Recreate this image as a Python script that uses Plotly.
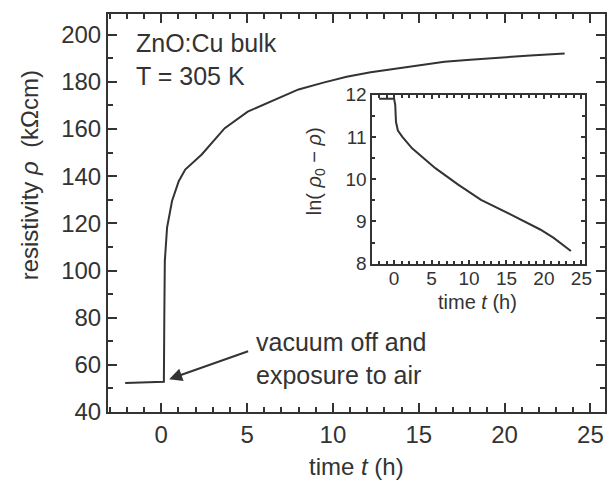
import plotly.graph_objects as go

# Main curve: resistivity vs time
t_main = [-2.1, 0.0, 0.155, 0.18, 0.21, 0.34, 0.63, 1.02, 1.40, 2.36, 3.70, 5.04, 6.57, 8.0, 9.5,
          10.8, 12.2, 13.7, 15.1, 16.5, 18.0, 19.4, 21.5, 23.5]
rho_main = [52.3, 52.6, 52.8, 80.0, 104.0, 118.2, 129.5, 137.9, 142.8, 149.2, 160.4, 167.4, 172.4,
            176.8, 179.8, 182.2, 184.1, 185.7, 187.2, 188.5, 189.4, 190.2, 191.2, 192.0]

# Inset curve: ln(rho0 - rho) vs time
t_inset = [-2.0, -1.0, 0.0, 0.15, 0.25, 0.5, 1.1, 2.4, 5.5, 8.55, 11.6, 15.6, 19.5, 21.3, 23.0, 23.6]
ln_inset = [11.9, 11.9, 11.9, 11.75, 11.35, 11.15, 11.0, 10.73, 10.26, 9.87, 9.51, 9.16, 8.81, 8.61, 8.38, 8.30]

main_yticks = [40, 60, 80, 100, 120, 140, 160, 180, 200]
main_xticks = [0, 5, 10, 15, 20, 25]
inset_yticks = [8, 9, 10, 11, 12]
inset_xticks = [0, 5, 10, 15, 20, 25]

FONT = "Liberation Sans, Arial, sans-serif"
TXT = "#333333"
LINE = "#333333"
TICKC = "#333333"

MAIN_X_RANGE = [-3.1, 25.85]
MAIN_Y_RANGE = [40, 208.8]
INSET_X_RANGE = [-2.9, 25.5]
INSET_Y_RANGE = [8, 12]
INSET_X_DOMAIN = [0.532, 0.960]
INSET_Y_DOMAIN = [0.3725, 0.7975]

fig = go.Figure()
fig.add_trace(go.Scatter(x=t_main, y=rho_main, mode="lines",
                         line=dict(color=LINE, width=2), xaxis="x", yaxis="y",
                         showlegend=False, hoverinfo="skip"))
fig.add_trace(go.Scatter(x=t_inset, y=ln_inset, mode="lines",
                         line=dict(color=LINE, width=2), xaxis="x2", yaxis="y2",
                         showlegend=False, hoverinfo="skip"))
# invisible traces so the mirrored tick axes are drawn
fig.add_trace(go.Scatter(x=[None], y=[None], xaxis="x3", yaxis="y3", showlegend=False, hoverinfo="skip"))
fig.add_trace(go.Scatter(x=[None], y=[None], xaxis="x4", yaxis="y4", showlegend=False, hoverinfo="skip"))


def ax(rng, vals, major_len, minor_dtick, minor_len, fsize, **kw):
    d = dict(showgrid=False, zeroline=False, showline=True, linecolor=LINE, linewidth=2,
             ticks="inside", tickcolor=TICKC, tickwidth=2, ticklen=major_len,
             range=rng, tickmode="array", tickvals=vals,
             minor=dict(dtick=minor_dtick, tick0=0, ticklen=minor_len, ticks="inside",
                        tickcolor=TICKC, tickwidth=2, showgrid=False),
             tickfont=dict(family=FONT, size=fsize, color=TXT))
    d.update(kw)
    return d


fig.update_layout(
    width=616, height=487,
    margin=dict(l=108, r=4, t=12, b=75),
    paper_bgcolor="white", plot_bgcolor="white",
    font=dict(family=FONT, color=TXT),
    xaxis=ax(MAIN_X_RANGE, main_xticks, 9, 1, 5, 24, ticklabelstandoff=0),
    yaxis=ax(MAIN_Y_RANGE, main_yticks, 9, 10, 5, 24),
    xaxis3=ax(MAIN_X_RANGE, main_xticks, 9, 1, 5, 24, overlaying="x", side="top",
              anchor="y", showticklabels=False),
    yaxis3=ax(MAIN_Y_RANGE, main_yticks, 9, 10, 5, 24, overlaying="y", side="right",
              anchor="x", showticklabels=False),
    xaxis2=ax(INSET_X_RANGE, inset_xticks, 4, 1, 3, 19, domain=INSET_X_DOMAIN, anchor="y2",
              ticklabelstandoff=-4),
    yaxis2=ax(INSET_Y_RANGE, inset_yticks, 4, 0.5, 3, 19, domain=INSET_Y_DOMAIN, anchor="x2"),
    xaxis4=ax(INSET_X_RANGE, inset_xticks, 4, 1, 3, 19, domain=INSET_X_DOMAIN, anchor="y4",
              overlaying="x2", side="top", showticklabels=False),
    yaxis4=ax(INSET_Y_RANGE, inset_yticks, 4, 0.5, 3, 19, domain=INSET_Y_DOMAIN, anchor="x4",
              overlaying="y2", side="right", showticklabels=False),
)


def px_x(px):
    return (px - 108) / 504.0


def px_y(py):
    return (412 - py) / 400.0


anns = [
    dict(text="resistivity <i>ρ</i>  (kΩcm)", x=px_x(28), y=px_y(174), textangle=-90, size=24),
    dict(text="time <i>t</i> (h)", x=px_x(360), y=px_y(467), size=24),
    dict(text="ZnO:Cu bulk<br>T = 305 K", x=px_x(134), y=px_y(58), xanchor="left", size=25),
    dict(text="vacuum off and<br>exposure to air", x=px_x(256), y=px_y(358), xanchor="left", size=25),
    dict(text="ln( <i>ρ</i><sub>0</sub> − <i>ρ</i>)", x=px_x(318), y=px_y(170), textangle=-90, size=20),
    dict(text="time <i>t</i> (h)", x=px_x(483), y=px_y(301), size=20),
]
for a in anns:
    size = a.pop("size")
    fig.add_annotation(xref="paper", yref="paper", showarrow=False,
                       xanchor=a.pop("xanchor", "center"), yanchor="middle", align="left",
                       font=dict(family=FONT, color=TXT, size=size), **a)

# Arrow pointing at the exposure moment
fig.add_annotation(x=px_x(170), y=px_y(379), ax=82, ay=-29,
                   xref="paper", yref="paper", axref="pixel", ayref="pixel",
                   showarrow=True, arrowhead=2, arrowsize=1.3, arrowwidth=2,
                   arrowcolor=LINE, text=" ")

fig.write_html("out.html")
